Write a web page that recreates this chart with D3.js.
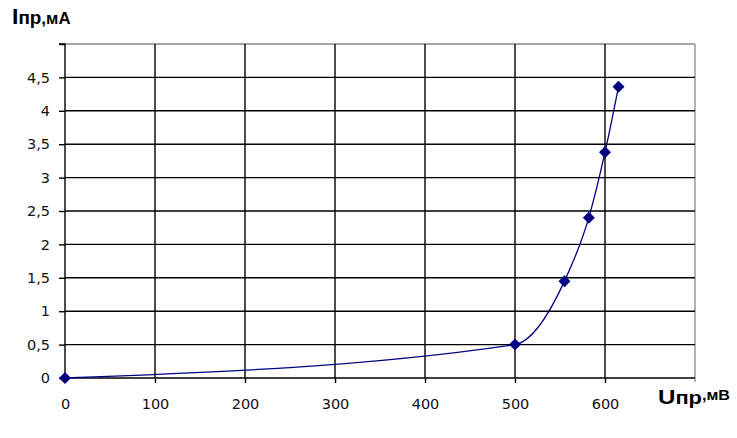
<!DOCTYPE html>
<html><head><meta charset="utf-8">
<script src="https://cdn.jsdelivr.net/npm/d3@7"></script>
<style>body{margin:0;background:#fff}svg{display:block}</style>
</head><body>
<script>
const voltage = [0, 500, 555, 582, 600, 615];      // U, mV
const current = [0, 0.5, 1.45, 2.4, 3.38, 4.36];   // I, mA
const xTicks = [0, 100, 200, 300, 400, 500, 600];
const yTicks = [0, 0.5, 1, 1.5, 2, 2.5, 3, 3.5, 4, 4.5];
const yTickLabels = ["0", "0,5", "1", "1,5", "2", "2,5", "3", "3,5", "4", "4,5"];

const W = 737, H = 438;
const svg = d3.select("body").append("svg").attr("width", W).attr("height", H);
const x = d3.scaleLinear().domain([0, 700]).range([65, 695]);
const y = d3.scaleLinear().domain([0, 5]).range([378, 44]);

// frame (top/right grey)
svg.append("line").attr("x1", x(0)).attr("x2", x(700)).attr("y1", y(5)).attr("y2", y(5)).attr("stroke", "#888").attr("stroke-width", 1.3);
svg.append("line").attr("x1", x(700)).attr("x2", x(700)).attr("y1", y(5)).attr("y2", y(0) + 4).attr("stroke", "#888").attr("stroke-width", 1.3);

// gridlines
svg.append("g").selectAll("line").data(yTicks.filter(d => d > 0)).join("line")
  .attr("x1", x(0)).attr("x2", x(700)).attr("y1", d => y(d)).attr("y2", d => y(d))
  .attr("stroke", "#000").attr("stroke-width", 1.4);
svg.append("g").selectAll("line").data(xTicks.filter(d => d > 0)).join("line")
  .attr("y1", y(0)).attr("y2", y(5)).attr("x1", d => x(d)).attr("x2", d => x(d))
  .attr("stroke", "#000").attr("stroke-width", 1.4);

// axes
const yAxis = d3.axisLeft(y).tickValues(yTicks.concat([5])).tickSize(6).tickFormat((d, i) => i < yTickLabels.length ? yTickLabels[i] : "");
const gy = svg.append("g").attr("transform", `translate(${x(0)},0)`).call(yAxis);
const xAxis = d3.axisBottom(x).tickValues(xTicks).tickSize(5).tickFormat(d => d);
const gx = svg.append("g").attr("transform", `translate(0,${y(0)})`).call(xAxis);
[gx, gy].forEach(g => {
  g.select(".domain").attr("stroke", "#000").attr("stroke-width", 1.4);
  g.selectAll(".tick line").attr("stroke", "#000").attr("stroke-width", 1.4);
  g.selectAll("text").attr("fill", "#111").style("font-family", "DejaVu Sans").style("font-size", "14.5px");
});
gy.select(".domain").attr("d", `M-6,${y(5)}H0V${y(0)}`);
gx.select(".domain").attr("d", `M${x(0)},0H${x(700)}`);
gy.selectAll("text").attr("x", -15);
gx.selectAll("text").attr("dy", "1.6em");

// curve
const pts = voltage.map((v, i) => [x(v), y(current[i])]);
svg.append("path").attr("d", d3.line().curve(d3.curveMonotoneX)(pts))
  .attr("fill", "none").attr("stroke", "#000080").attr("stroke-width", 1.3);
svg.append("g").selectAll("path").data(pts).join("path")
  .attr("transform", d => `translate(${d[0]},${d[1]}) rotate(45)`)
  .attr("d", d3.symbol(d3.symbolSquare, 72)())
  .attr("fill", "#000080");

// axis titles
const tY = svg.append("text").attr("transform", "translate(12,24) scale(1.05,1)").attr("font-family", "Liberation Sans, Arial").attr("font-weight", "bold").attr("fill", "#000");
tY.append("tspan").attr("font-size", "22px").text("I");
tY.append("tspan").attr("font-size", "18px").text("пр");
tY.append("tspan").attr("font-size", "16px").text(",мА");

const tX = svg.append("text").attr("transform", "translate(658,404) scale(1.15,1)").attr("font-family", "Liberation Sans, Arial").attr("font-weight", "bold").attr("fill", "#000");
tX.append("tspan").attr("font-size", "21px").text("U");
tX.append("tspan").attr("font-size", "19px").text("пр");
tX.append("tspan").attr("font-size", "14px").attr("dy", -4).text(",мВ");
</script>
</body></html>
